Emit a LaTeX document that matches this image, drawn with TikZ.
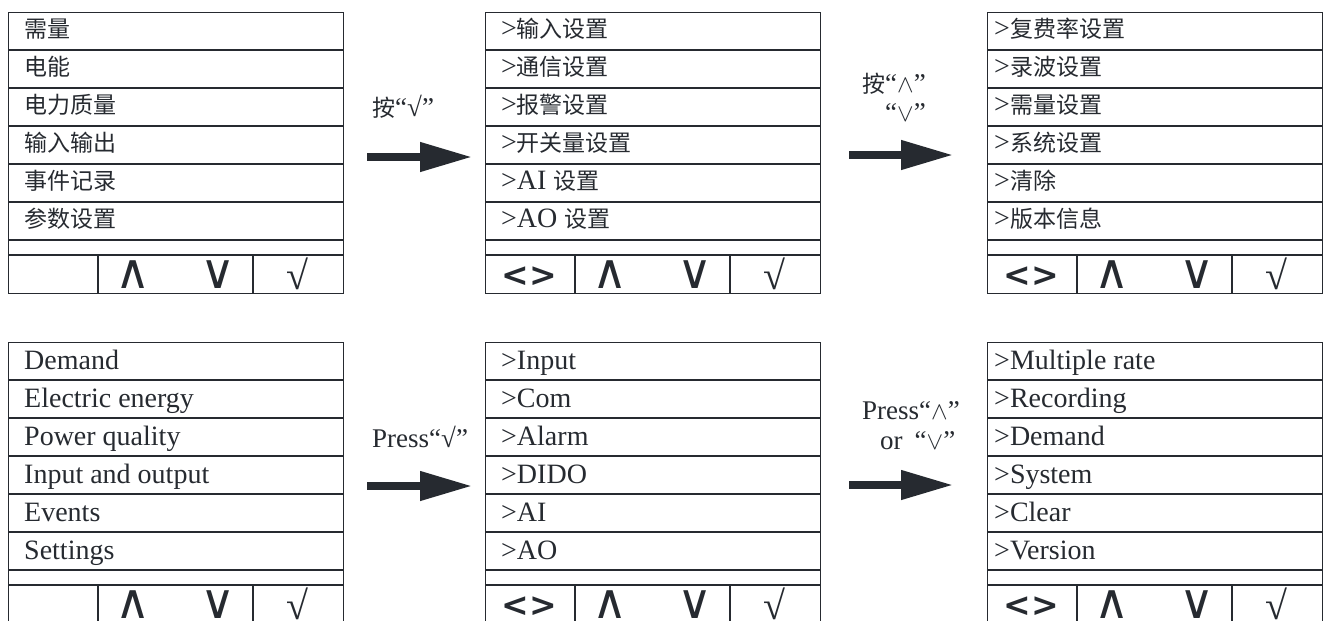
\documentclass[tikz,border=0pt]{standalone}
\usepackage{fontspec}
\setmainfont{Liberation Serif}
\newfontfamily\cjk{Noto Sans CJK SC}
\newfontfamily\keyfont{DejaVu Sans}
\usetikzlibrary{arrows.meta, positioning, calc}

\definecolor{linec}{RGB}{38,42,48}
\newcommand{\zh}[1]{{\cjk\fontsize{23}{23}\selectfont #1}}

\tikzset{
  screen/.style={draw=linec, line width=1.3pt, minimum width=335pt, minimum height=281pt, inner sep=0pt},
  rowline/.style={draw=linec, line width=1.2pt},
  rowtext/.style={anchor=base west, inner sep=0pt, text=linec, font=\fontsize{28}{28}\selectfont},
  keylabel/.style={anchor=base, inner sep=0pt, text=linec, font=\keyfont\bfseries\fontsize{33}{33}\selectfont},
  arrowkey/.style={keylabel, font=\keyfont\fontsize{48}{48}\selectfont},
  oklabel/.style={anchor=base, inner sep=0pt, text=linec, font=\fontsize{40}{40}\selectfont},
  pushlabel/.style={anchor=base west, inner sep=0pt, text=linec, font=\fontsize{27}{27}\selectfont},
  pusharrow/.style={line width=7.5pt, draw=linec, -{Triangle[length=52pt,width=28pt]}},
}

\begin{document}
\begin{tikzpicture}[x=1pt, y=-1pt]
  \useasboundingbox (0,0) rectangle (1325,621);

  % six screens with their key row
  \foreach \nm/\px/\py in {zh1/8/12, zh2/485/12, zh3/987/12, en1/8/342, en2/485/342, en3/987/342}{
    \node[screen, anchor=north west] (\nm) at (\px,\py) {};
    \foreach \i in {1,...,6}
      \draw[rowline] ($(\nm.north west)+(0,38*\i)$) -- ($(\nm.north east)+(0,38*\i)$);
    \draw[rowline] ($(\nm.north west)+(0,243)$) -- ($(\nm.north east)+(0,243)$);
    \draw[rowline] ($(\nm.north west)+(90,243)$) -- ($(\nm.south west)+(90,0)$);
    \draw[rowline] ($(\nm.north west)+(245,243)$) -- ($(\nm.south west)+(245,0)$);
    \node[arrowkey] (\nm-up) at ($(\nm.north west)+(125,276)$) {∧};
    \node[arrowkey] (\nm-down) at ($(\nm.north west)+(210,276)$) {∨};
    \node[oklabel] (\nm-ok) at ($(\nm.north west)+(289,277)$) {√};
  }
  \foreach \nm in {zh2, zh3, en2, en3}
    \node[keylabel] (\nm-lr) at ($(\nm.north west)+(44,274)$) {<>};

  % menu entries
  \foreach \nm/\ind/\base/\items in {
      zh1/16/13/{\zh{需量},\zh{电能},\zh{电力质量},\zh{输入输出},\zh{事件记录},\zh{参数设置}},
      zh2/16/13/{>\zh{输入设置},>\zh{通信设置},>\zh{报警设置},>\zh{开关量设置},>AI \zh{设置},>AO \zh{设置}},
      zh3/7/13/{>\zh{复费率设置},>\zh{录波设置},>\zh{需量设置},>\zh{系统设置},>\zh{清除},>\zh{版本信息}},
      en1/16/11/{Demand,Electric energy,Power quality,Input and output,Events,Settings},
      en2/16/11/{>Input,>Com,>Alarm,>DIDO,>AI,>AO},
      en3/7/11/{>Multiple rate,>Recording,>Demand,>System,>Clear,>Version}}
    \foreach \t [count=\i] in \items
      \node[rowtext] (\nm-r\i) at ($(\nm.north west)+(\ind,38*\i-\base)$) {\t};

  % key hints
  \node[pushlabel] (zh-p1) at (372,116) {\zh{按}“√”};
  \node[pushlabel] (zh-p2) at (862,92) {\zh{按}“$\wedge$”};
  \node[pushlabel] (zh-p2b) at (885,121) {“$\vee$”};
  \node[pushlabel] (en-p1) at (372,447) {Press“√”};
  \node[pushlabel] (en-p2) at (862,419) {Press“$\wedge$”};
  \node[pushlabel] (en-p2b) at (880,449) {or\hspace{12pt}“$\vee$”};

  % arrows between screens
  \coordinate (zh-a1) at (367,157);  \coordinate (zh-b1) at (472,157);
  \coordinate (zh-a2) at (849,155);  \coordinate (zh-b2) at (953,155);
  \coordinate (en-a1) at (367,486);  \coordinate (en-b1) at (472,486);
  \coordinate (en-a2) at (849,485);  \coordinate (en-b2) at (953,485);
  \draw[pusharrow] (zh-a1) -- (zh-b1);
  \draw[pusharrow] (zh-a2) -- (zh-b2);
  \draw[pusharrow] (en-a1) -- (en-b1);
  \draw[pusharrow] (en-a2) -- (en-b2);
\end{tikzpicture}
\end{document}
